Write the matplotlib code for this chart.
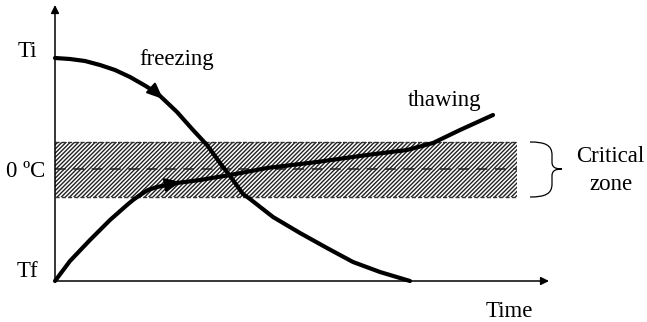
import matplotlib
matplotlib.use("Agg")
from matplotlib import pyplot as plt
from matplotlib.path import Path
from matplotlib.patches import PathPatch

plt.rcParams['font.family'] = ['Liberation Serif', 'DejaVu Serif']
plt.rcParams['hatch.linewidth'] = 1.0

# curves (time, temperature in arbitrary units)
freeze_t = [0, 15, 30, 45, 60, 75, 89, 102, 122, 138, 152, 165, 175, 188, 195,
            218, 245, 272, 298, 325, 355]
freeze_T = [223, 222, 220, 216, 211, 204, 196, 188, 169, 151, 136, 118, 105, 87, 82,
            64, 48, 33, 19, 9, 0]
thaw_t = [0, 15, 35, 55, 72, 78, 85, 93, 102, 122, 145, 175, 212, 262, 312, 352,
          378, 405, 438]
thaw_T = [0, 20, 41, 61, 76, 81, 86, 91, 94, 98, 101, 106, 113, 119, 126, 131,
          138, 151, 166]

T_zero = 112
zone_low, zone_high = 84, 139
zone_end = 462
t_end = 494
T_top = 276

fig = plt.figure(figsize=(6.47, 3.22), dpi=100)
ax = fig.add_axes([55 / 647, 41 / 322, 592 / 647, 281 / 322])
ax.set_xlim(0, 592)
ax.set_ylim(0, 281)
ax.axis('off')

# critical zone
ax.fill_between([0, zone_end], zone_low, zone_high, facecolor='none',
                edgecolor='#222222', hatch='////////', linewidth=0)
ax.plot([0, zone_end], [zone_high, zone_high], color='#333333', lw=1.0, ls=(0, (3, 1.5)))
ax.plot([0, zone_end], [zone_low, zone_low], color='#333333', lw=1.0, ls=(0, (3, 1.5)))
ax.plot([0, zone_end], [T_zero, T_zero], color='#222222', lw=1.1, ls=(0, (7, 5)))

# axes arrows
arrow = dict(arrowstyle='-|>', color='black', lw=1.1, mutation_scale=12, shrinkA=0, shrinkB=0)
ax.annotate('', xy=(0, T_top), xytext=(0, 0), arrowprops=arrow, annotation_clip=False)
ax.annotate('', xy=(t_end, 0), xytext=(0, 0), arrowprops=arrow, annotation_clip=False)

# curves
line_kw = dict(color='black', lw=3, solid_capstyle='round', solid_joinstyle='round',
               clip_on=False)
ax.plot(freeze_t, freeze_T, **line_kw)
ax.plot(thaw_t, thaw_T, **line_kw)

head = dict(arrowstyle='-|>,head_length=0.7,head_width=0.3', color='black', lw=1.5,
            mutation_scale=14, shrinkA=0, shrinkB=0)
ax.annotate('', xy=(108, 182), xytext=(96, 193), arrowprops=head)
ax.annotate('', xy=(126, 99), xytext=(110, 96), arrowprops=head)

# brace for the critical zone
verts = [(475, zone_high), (490, zone_high), (497, 136), (497, 126),
         (497, 119),
         (497, 114), (500, T_zero), (507, T_zero),
         (500, T_zero), (497, 110), (497, 105),
         (497, 97),
         (497, 87), (490, zone_low), (475, zone_low)]
codes = [Path.MOVETO, Path.CURVE4, Path.CURVE4, Path.CURVE4,
         Path.LINETO,
         Path.CURVE4, Path.CURVE4, Path.CURVE4,
         Path.CURVE4, Path.CURVE4, Path.CURVE4,
         Path.LINETO,
         Path.CURVE4, Path.CURVE4, Path.CURVE4]
ax.add_patch(PathPatch(Path(verts, codes), facecolor='none', edgecolor='black',
                       lw=0.9, clip_on=False))

fs = 16.5
kw = dict(fontsize=fs, ha='center', va='baseline', clip_on=False)
ax.text(-28, 224, 'Ti', **kw)
ax.text(-28, 4, 'Tf', **kw)
ax.text(-29, 104, '0 ºC', **kw)
ax.text(122, 216, 'freezing', **kw)
ax.text(390, 175, 'thawing', **kw)
ax.text(555, 119, 'Critical', **kw)
ax.text(556, 91, 'zone', **kw)
ax.text(454, -36, 'Time', **kw)

fig.savefig('out.png', dpi=100)
